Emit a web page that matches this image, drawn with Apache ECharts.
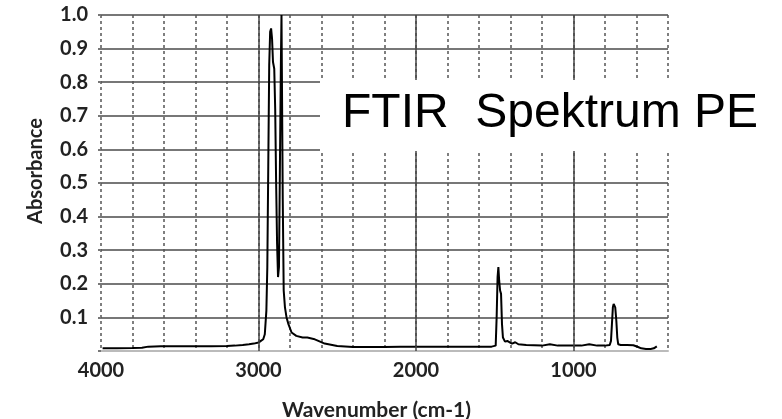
<!DOCTYPE html>
<html>
<head>
<meta charset="utf-8">
<script src="https://cdn.jsdelivr.net/npm/echarts@6/dist/echarts.min.js"></script>
<style>
	html, body { margin: 0; padding: 0; background: #fff; }
	#chart { width: 782px; height: 419px; }
</style>
</head>
<body>
<div id="chart"></div>
<script>
	// spectrum (wavenumber in cm-1, absorbance)
	var wavenumbers = [3990, 3900, 3800, 3740, 3700, 3620, 3500, 3400, 3300, 3200, 3150, 3100, 3060, 3030, 3000,
		2985, 2970, 2960, 2950, 2944, 2938, 2932, 2926, 2920, 2914, 2908, 2900, 2894, 2888, 2882, 2876, 2870,
		2864, 2858, 2854, 2850, 2846, 2840, 2832, 2822, 2810, 2790, 2760, 2720, 2690, 2650, 2620, 2580, 2500,
		2400, 2300, 2200, 2100, 2000, 1900, 1800, 1700, 1600, 1520, 1494, 1488, 1482, 1477, 1472, 1466, 1460,
		1454, 1448, 1435, 1420, 1405, 1390, 1370, 1350, 1300, 1250, 1200, 1150, 1100, 1050, 1000, 950, 900,
		850, 800, 770, 762, 756, 750, 745, 740, 735, 728, 722, 716, 700, 660, 620, 590, 570, 540, 510, 490, 471];
	var absorbance = [0.008, 0.008, 0.009, 0.010, 0.013, 0.014, 0.014, 0.014, 0.014, 0.015, 0.016, 0.018, 0.020, 0.022, 0.025,
		0.03, 0.035, 0.05, 0.12, 0.25, 0.55, 0.85, 0.95, 0.96, 0.93, 0.86, 0.84, 0.72, 0.50, 0.32, 0.22, 0.25,
		0.55, 0.85, 1.00, 1.00, 0.45, 0.18, 0.13, 0.10, 0.08, 0.055, 0.045, 0.04, 0.04, 0.036, 0.03, 0.022, 0.015,
		0.012, 0.012, 0.012, 0.013, 0.013, 0.013, 0.013, 0.013, 0.013, 0.013, 0.016, 0.10, 0.22, 0.25, 0.21, 0.18, 0.17,
		0.08, 0.04, 0.028, 0.03, 0.026, 0.022, 0.026, 0.02, 0.018, 0.017, 0.016, 0.02, 0.016, 0.016, 0.016, 0.016, 0.02,
		0.016, 0.016, 0.018, 0.03, 0.08, 0.13, 0.14, 0.135, 0.13, 0.09, 0.04, 0.02, 0.018, 0.018, 0.017, 0.012, 0.008, 0.006, 0.006, 0.008, 0.014];

	var majorLines = [1000, 2000, 3000];
	var xLabels = [1000, 2000, 3000, 4000];
	var titleText = 'FTIR  Spektrum PE';

	var points = [];
	for (var i = 0; i < wavenumbers.length; i++) {
		points.push([wavenumbers[i], absorbance[i]]);
	}

	var labelFont = 'Lato, "DejaVu Sans", sans-serif';
	var myChart = echarts.init(document.getElementById('chart'));
	var option = {
		animation: false,
		grid: {
			left: 101,
			right: 114,
			top: 15,
			bottom: 68,
			outerBoundsMode: 'none'
		},
		xAxis: {
			type: 'value',
			inverse: true,
			min: 400,
			max: 4000,
			interval: 200,
			name: 'Wavenumber (cm-1)',
			nameLocation: 'middle',
			nameGap: 49,
			nameTextStyle: {
				fontFamily: labelFont,
				fontWeight: 'bold',
				fontSize: 21,
				color: '#222',
				padding: [0, 16, 0, 0]
			},
			axisLine: {
				show: true,
				onZero: false,
				lineStyle: { color: '#bbb', width: 2 }
			},
			axisTick: { show: false },
			axisLabel: {
				margin: 10,
				fontFamily: labelFont,
				fontWeight: 'bold',
				fontSize: 20,
				color: '#222',
				formatter: function (v) {
					return xLabels.indexOf(v) >= 0 ? String(v) : '';
				}
			},
			splitLine: {
				show: true,
				lineStyle: { color: '#555', width: 1.5, type: [3, 3] }
			}
		},
		yAxis: {
			type: 'value',
			min: 0,
			max: 1,
			interval: 0.1,
			name: 'Absorbance',
			nameLocation: 'middle',
			nameGap: 55,
			nameTextStyle: {
				fontFamily: labelFont,
				fontWeight: 'bold',
				fontSize: 20,
				color: '#222',
				padding: [0, 0, 0, 24]
			},
			axisLine: { show: false },
			axisTick: {
				show: true,
				length: 3,
				lineStyle: { color: '#777', width: 2 }
			},
			axisLabel: {
				margin: 13,
				fontFamily: labelFont,
				fontWeight: 'bold',
				fontSize: 20,
				color: '#222',
				formatter: function (v) {
					return v === 0 ? '' : v.toFixed(1);
				}
			},
			splitLine: {
				show: true,
				lineStyle: { color: '#777', width: 2 }
			}
		},
		series: [
			{
				// solid verticals at every 1000 cm-1
				name: 'major',
				type: 'line',
				data: [],
				z: 1,
				markLine: {
					silent: true,
					symbol: 'none',
					label: { show: false },
					lineStyle: { color: '#444', width: 1.5, type: 'solid' },
					data: majorLines.map(function (v) { return { xAxis: v }; })
				}
			},
			{
				name: 'PE',
				type: 'line',
				data: points,
				z: 3,
				showSymbol: false,
				lineStyle: { color: '#000', width: 2 }
			}
		],
		graphic: [
			{
				type: 'rect',
				z: 100,
				shape: { x: 320, y: 80, width: 462, height: 71 },
				style: { fill: '#fff' }
			},
			{
				type: 'text',
				z: 101,
				x: 342,
				y: 114,
				style: {
					text: titleText,
					fill: '#000',
					font: '48px "Liberation Sans", Arial, sans-serif',
					verticalAlign: 'middle'
				}
			}
		]
	};
	myChart.setOption(option);
</script>
</body>
</html>
